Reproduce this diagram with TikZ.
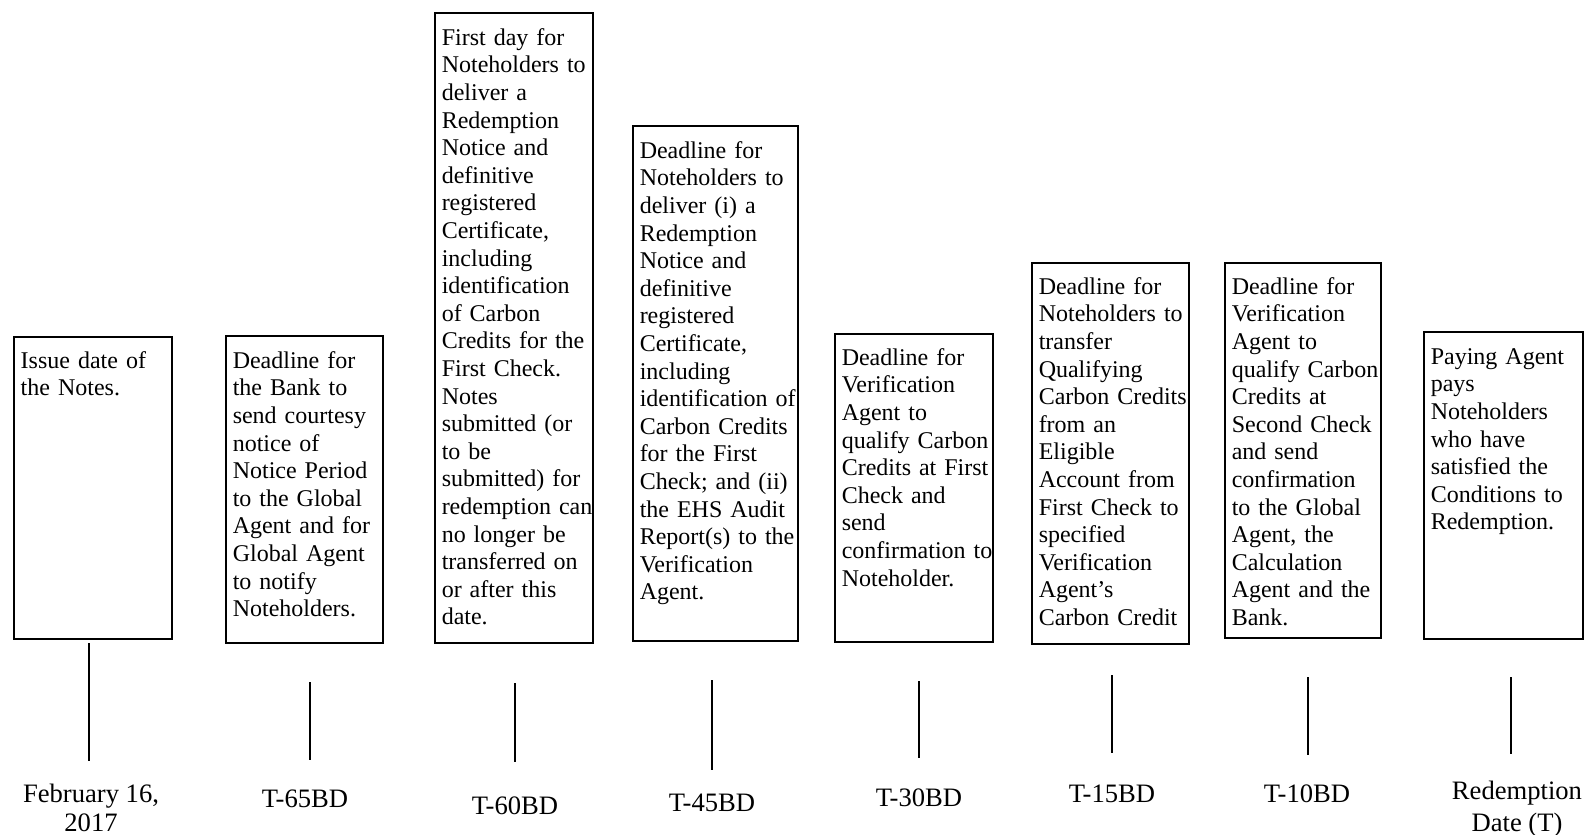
\documentclass[tikz,border=0pt]{standalone}
\usepackage{fontspec}
\setmainfont{Liberation Serif}
\usetikzlibrary{fit}
\tikzset{
  evbox/.style={rectangle, draw=black, line width=0.65pt, inner sep=0pt},
  note/.style={anchor=base west, text width=90pt, align=left, inner sep=0pt,
    font=\fontsize{12}{13.8}\selectfont},
  datelbl/.style={anchor=base, align=center, inner sep=0pt,
    font=\fontsize{13.3}{15.6}\selectfont},
  stem/.style={line width=1.1pt},
}
\begin{document}
\begin{tikzpicture}[x=0.5pt,y=-0.5pt]
  \useasboundingbox (0,0) rectangle (1587,835);
  % event boxes
  \node[evbox, fit={(14,337) (172,639)}] (issue) {};
  \node[evbox, fit={(226,336) (383,643)}] (t65) {};
  \node[evbox, fit={(435,13) (593,643)}] (t60) {};
  \node[evbox, fit={(633,126) (798,641)}] (t45) {};
  \node[evbox, fit={(835,334) (993,642)}] (t30) {};
  \node[evbox, fit={(1032,263) (1189,644)}] (t15) {};
  \node[evbox, fit={(1225,263) (1381,638)}] (t10) {};
  \node[evbox, fit={(1424,332) (1583,639)}] (redeem) {};
  % texts in the boxes
  \node[note] (issuetxt) at ([xshift=3.5pt,yshift=-16pt]issue.north west)
    {Issue date of\\the Notes.};
  \node[note] (t65txt) at ([xshift=3.5pt,yshift=-16.5pt]t65.north west)
    {Deadline for\\the Bank to\\send courtesy\\notice of\\Notice Period\\to the Global\\Agent and for\\Global Agent\\to notify\\Noteholders.};
  \node[note] (t60txt) at ([xshift=3.5pt,yshift=-16.5pt]t60.north west)
    {First day for\\Noteholders to\\deliver a\\Redemption\\Notice and\\definitive\\registered\\Certificate,\\including\\identification\\of Carbon\\Credits for the\\First Check.\\Notes\\submitted (or\\to be\\submitted) for\\redemption can\\no longer be\\transferred on\\or after this\\date.};
  \node[note] (t45txt) at ([xshift=3.5pt,yshift=-16.5pt]t45.north west)
    {Deadline for\\Noteholders to\\deliver (i) a\\Redemption\\Notice and\\definitive\\registered\\Certificate,\\including\\identification of\\Carbon Credits\\for the First\\Check; and (ii)\\the EHS Audit\\Report(s) to the\\Verification\\Agent.};
  \node[note] (t30txt) at ([xshift=3.5pt,yshift=-16pt]t30.north west)
    {Deadline for\\Verification\\Agent to\\qualify Carbon\\Credits at First\\Check and\\send\\confirmation to\\Noteholder.};
  \node[note] (t15txt) at ([xshift=3.5pt,yshift=-16pt]t15.north west)
    {Deadline for\\Noteholders to\\transfer\\Qualifying\\Carbon Credits\\from an\\Eligible\\Account from\\First Check to\\specified\\Verification\\Agent’s\\Carbon Credit};
  \node[note] (t10txt) at ([xshift=3.5pt,yshift=-16pt]t10.north west)
    {Deadline for\\Verification\\Agent to\\qualify Carbon\\Credits at\\Second Check\\and send\\confirmation\\to the Global\\Agent, the\\Calculation\\Agent and the\\Bank.};
  \node[note] (redeemtxt) at ([xshift=3.5pt,yshift=-16.5pt]redeem.north west)
    {Paying Agent\\pays\\Noteholders\\who have\\satisfied the\\Conditions to\\Redemption.};
  % dates (base = last line)
  \node[datelbl, font=\fontsize{13.3}{14.5}\selectfont] (dissue) at (91,831) {February 16,\\2017};
  \node[datelbl] (d65) at (305,807) {T-65BD};
  \node[datelbl] (d60) at (515,814) {T-60BD};
  \node[datelbl] (d45) at (712,811) {T-45BD};
  \node[datelbl] (d30) at (919,806) {T-30BD};
  \node[datelbl] (d15) at (1112,802) {T-15BD};
  \node[datelbl] (d10) at (1307,802) {T-10BD};
  \node[datelbl] (dredeem) at (1517,831) {Redemption\\Date (T)};
  % stems
  \coordinate (sissue) at (89,643);
  \coordinate (s65) at (310,682);
  \coordinate (s60) at (515,683);
  \coordinate (s45) at (712,680);
  \coordinate (s30) at (919,681);
  \coordinate (s15) at (1112,675);
  \coordinate (s10) at (1308,677);
  \coordinate (sredeem) at (1511,677);
  \draw[stem] (sissue) -- ++(0,118);
  \draw[stem] (s65) -- ++(0,78);
  \draw[stem] (s60) -- ++(0,79);
  \draw[stem] (s45) -- ++(0,90);
  \draw[stem] (s30) -- ++(0,77);
  \draw[stem] (s15) -- ++(0,78);
  \draw[stem] (s10) -- ++(0,78);
  \draw[stem] (sredeem) -- ++(0,77);
\end{tikzpicture}
\end{document}
